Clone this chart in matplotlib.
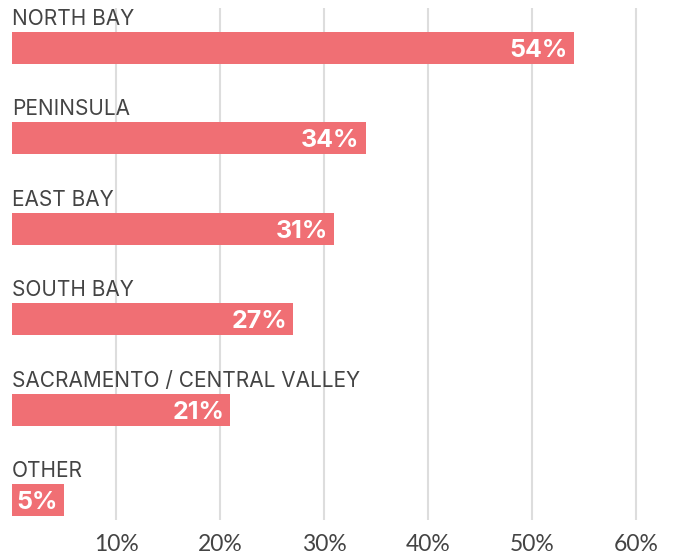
import matplotlib.pyplot as plt

regions = ['NORTH BAY', 'PENINSULA', 'EAST BAY', 'SOUTH BAY',
           'SACRAMENTO / CENTRAL VALLEY', 'OTHER']
shares = [54, 34, 31, 27, 21, 5]
ticks = [10, 20, 30, 40, 50, 60]

bar_color = '#F06F74'
text_color = '#444444'
bar_h = 0.354

plt.rcParams['font.family'] = ['Lato', 'DejaVu Sans']

fig = plt.figure(figsize=(6.75, 5.57), dpi=100)
# axes spans pixel x 12..675, y 8..520 (from top)
ax = fig.add_axes([12 / 675, 37 / 557, 663 / 675, 512 / 557])

ypos = list(range(len(regions)))
ax.barh(ypos, shares, height=bar_h, color=bar_color, zorder=2)

for y, name, val in zip(ypos, regions, shares):
    ax.annotate(name, xy=(0, y - bar_h / 2), xytext=(0, 7),
                textcoords='offset pixels', ha='left', va='baseline',
                fontsize=15, color=text_color, family='Inter')
    ax.annotate(f'{val}%', xy=(val, y), xytext=(-6, 0),
                textcoords='offset pixels', ha='right', va='center_baseline',
                fontsize=18, fontweight='bold', color='white', zorder=3,
                family='Inter')

ax.set_xlim(0, 663 / 10.4)
ax.set_ylim(len(regions) - 1 + 0.221, -0.442)

for t in ticks:
    ax.axvline(t, color='#dddddd', lw=1.5, zorder=1)

ax.set_xticks(ticks)
ax.set_xticklabels([f'{t}%' for t in ticks], fontsize=16.5, color=text_color)
ax.tick_params(axis='x', length=0, pad=10)
ax.set_yticks([])
for s in ax.spines.values():
    s.set_visible(False)

fig.savefig('out.png', dpi=100)
